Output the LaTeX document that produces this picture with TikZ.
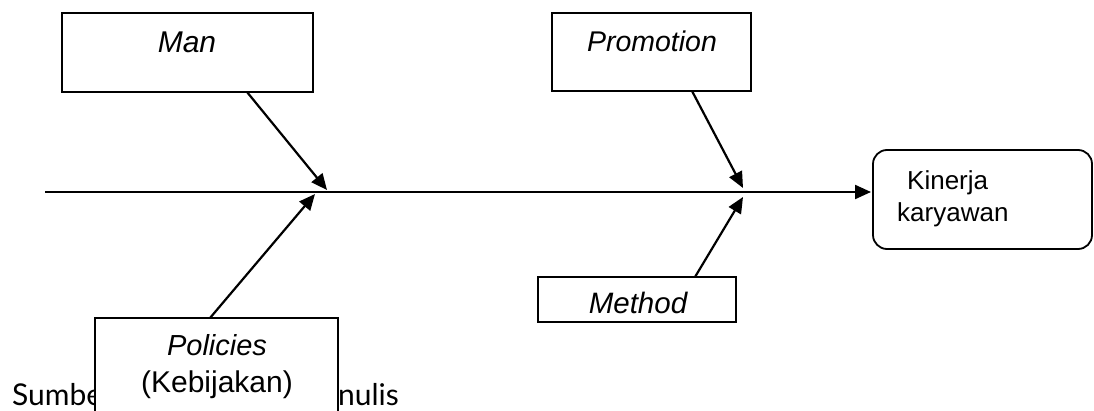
\documentclass[tikz,border=0pt]{standalone}
\usepackage{fontspec}
\setmainfont{Liberation Sans}
\newfontfamily\srcfont{Lato}
\usetikzlibrary{arrows.meta}
\tikzset{
  cbox/.style={draw, line width=1.8pt, fill=white, rectangle, inner sep=0pt},
  lbl/.style={anchor=base, inner sep=0pt, font=\fontsize{25}{30}\selectfont},
  arr/.style={line width=2.2pt, -{Triangle[length=16pt,width=14pt]}},
}
\begin{document}
\begin{tikzpicture}[x=1pt,y=-1pt]
\useasboundingbox (0,0) rectangle (1094,411);
\clip (0,0) rectangle (1094,411);
% source text (partly hidden by the Policies box)
\node[anchor=base west, inner sep=0pt, font=\srcfont\fontsize{30}{30}\selectfont] (src1) at (12,405) {Sumber};
\node[anchor=base east, inner sep=0pt, font=\srcfont\fontsize{30}{30}\selectfont] (src2) at (399,405) {Penulis};
% boxes
\node[cbox, minimum width=251pt, minimum height=79pt] (man) at (187.5,52.5) {};
\node[cbox, minimum width=199pt, minimum height=78pt] (promo) at (651.5,52) {};
\node[cbox, minimum width=198pt, minimum height=45pt] (method) at (637,299.5) {};
\node[cbox, minimum width=243pt, minimum height=110pt] (pol) at (216.5,373) {};
\node[cbox, rounded corners=14pt, minimum width=219pt, minimum height=99pt] (kin) at (982.5,199.5) {};
% labels
\node[lbl, font=\itshape\fontsize{30}{30}\selectfont] (tman) at (187,53) {Man};
\node[lbl, font=\itshape\fontsize{28.5}{30}\selectfont] (tpromo) at (652,51.5) {Promotion};
\node[lbl, font=\itshape\fontsize{29.5}{30}\selectfont] (tmethod) at (638,313) {Method};
\node[lbl, font=\itshape\fontsize{29}{30}\selectfont] (tpol) at (217,355) {Policies};
\node[lbl, font=\fontsize{30}{30}\selectfont] (tkeb) at (217,392) {(Kebijakan)};
\node[lbl, anchor=base west, font=\fontsize{26}{30}\selectfont] (tkin1) at (907,190) {Kinerja};
\node[lbl, anchor=base west, font=\fontsize{26}{30}\selectfont] (tkin2) at (897,222) {karyawan};
% spine
\coordinate (tail) at (45,192);
\coordinate (head) at (871,192);
\draw[arr] (tail) -- (head);
% bones
\coordinate (manfoot) at (247,92);
\coordinate (mantip) at (327,190);
\coordinate (polfoot) at (210,318);
\coordinate (poltip) at (315,194);
\coordinate (profoot) at (692,91);
\coordinate (protip) at (743,188);
\coordinate (metfoot) at (695,277);
\coordinate (mettip) at (743,197);
\draw[arr] (manfoot) -- (mantip);
\draw[arr] (polfoot) -- (poltip);
\draw[arr] (profoot) -- (protip);
\draw[arr] (metfoot) -- (mettip);
\end{tikzpicture}
\end{document}
